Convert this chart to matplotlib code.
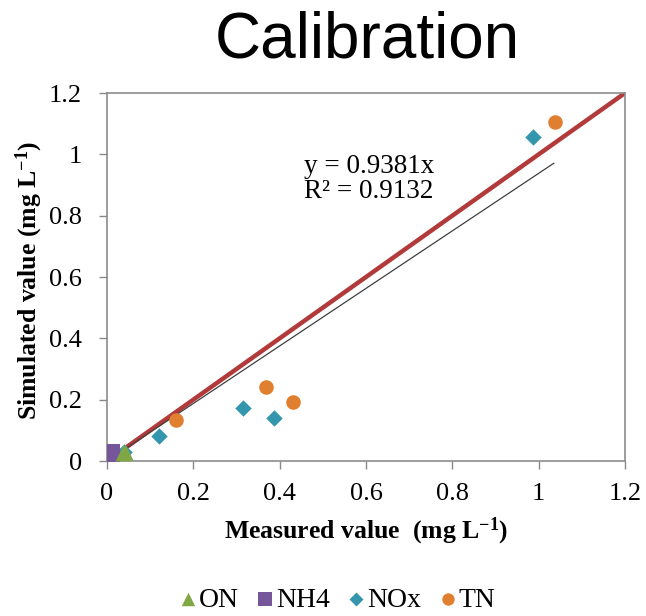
import numpy as np
import matplotlib.pyplot as plt

# measured vs simulated concentrations (mg/L)
on_meas = [0.038, 0.042]
on_sim = [0.025, 0.03]
nh4_meas = [0.01]
nh4_sim = [0.026]
nox_meas = [0.04, 0.12, 0.315, 0.387, 0.987]
nox_sim = [0.03, 0.082, 0.173, 0.14, 1.056]
tn_meas = [0.16, 0.368, 0.431, 1.037]
tn_sim = [0.134, 0.241, 0.192, 1.107]

slope = 0.9381
r2 = 0.9132
ticks = [0, 0.2, 0.4, 0.6, 0.8, 1, 1.2]
tick_labels = ["0", "0.2", "0.4", "0.6", "0.8", "1", "1.2"]

serif = "Liberation Serif"
plt.rcParams["mathtext.fontset"] = "custom"
plt.rcParams["mathtext.rm"] = serif
plt.rcParams["mathtext.it"] = serif + ":italic"
plt.rcParams["mathtext.bf"] = serif + ":bold"
plt.rcParams["axes.unicode_minus"] = False

fig = plt.figure(figsize=(6.46, 6.16), dpi=100)
ax = fig.add_axes([0.1656, 0.2516, 0.8019, 0.5974])

# 1:1 line and fitted trendline
ax.plot([0, 1.2], [0, 1.2], color="#b23a3a", lw=3.2, zorder=2)
xs = np.array([0.01, 1.035])
ax.plot(xs, slope * xs, color="#404040", lw=0.9, zorder=3)

ax.scatter(tn_meas, tn_sim, marker="o", s=110, color="#e07f2f", lw=0, zorder=4, label="TN")
ax.scatter(nox_meas, nox_sim, marker="D", s=70, color="#3496ad", lw=0, zorder=4, label="NOx")
ax.scatter(nh4_meas, nh4_sim, marker="s", s=150, color="#76569a", lw=0, zorder=5, label="NH4")
ax.scatter(on_meas, on_sim, marker="^", s=130, color="#7fa845", lw=0, zorder=6, label="ON")

ax.text(0.457, 1.0, "y = %.4fx\nR² = %.4f" % (slope, r2), fontfamily=serif,
        fontsize=19.5, va="top", ha="left", linespacing=1.0)

ax.set_xlim(0, 1.2)
ax.set_ylim(0, 1.2)
ax.set_xticks(ticks)
ax.set_xticklabels(tick_labels)
ax.set_yticks(ticks)
ax.set_yticklabels(tick_labels)
for lab in ax.get_xticklabels() + ax.get_yticklabels():
    lab.set_fontfamily(serif)
    lab.set_fontsize(19)
ax.tick_params(direction="out", length=6, color="#888888", width=1)
ax.tick_params(axis="y", pad=12)
ax.tick_params(axis="x", pad=10)
for sp in ax.spines.values():
    sp.set_color("#8c8c8c")
    sp.set_linewidth(1.2)

ax.set_xlabel(r"Measured value  (mg L$^{\mathbf{-1}}$)", fontfamily=serif,
              fontweight="bold", fontsize=18.5, va="center")
ax.set_ylabel(r"Simulated value (mg L$^{\mathbf{-1}}$)", fontfamily=serif,
              fontweight="bold", fontsize=18.5, va="center")
ax.xaxis.set_label_coords(0.5, -0.19)
ax.yaxis.set_label_coords(-0.149, 0.492)

fig.text(0.568, 0.935, "Calibration", fontfamily="Liberation Sans", fontsize=46,
         ha="center", va="center")

handles, labels = ax.get_legend_handles_labels()
order = [3, 2, 1, 0]
fig.legend([handles[i] for i in order], [labels[i] for i in order],
           loc="center", bbox_to_anchor=(0.518, 0.026), ncol=4, frameon=False,
           prop={"family": serif, "size": 20}, handletextpad=-0.1,
           handlelength=1.0, columnspacing=0.45, markerscale=0.85)

fig.savefig("out.png", dpi=100)
